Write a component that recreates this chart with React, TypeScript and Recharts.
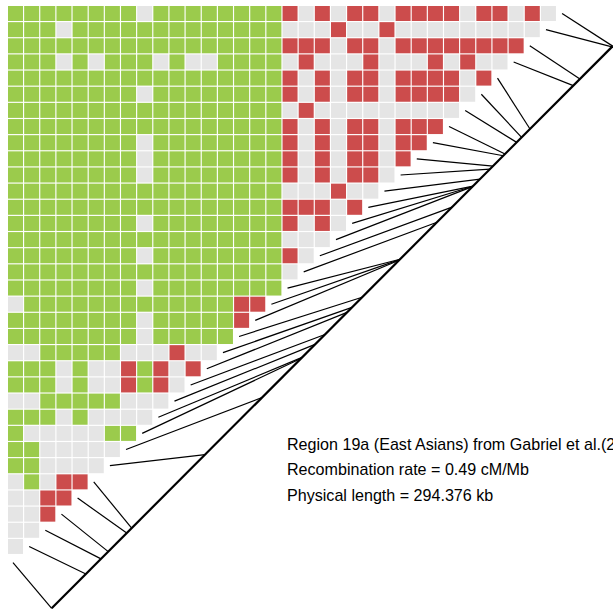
import { ScatterChart, Scatter, XAxis, YAxis, ReferenceLine, Customized } from 'recharts';

// haplotype-sharing matrix, one string per SNP row (G = green, R = red, X = grey)
const rowCodes = [
  'GGGGGGGGXGGGGGGGGRXRXRRXRRRRXRRXRX',
  'GGGXGGGGGGGGGGGGGXXXRXXRXXXXXXXXX',
  'GGGGGGGGGGGGGGGGGRRRXRRXRRRRRRRR',
  'GGGXGXGGGXGXXGGGGXRXXXRXXXRXRXX',
  'GGGGGGGGGGGGGGGGGRXRXRRXRRRRXR',
  'GGGGGGGGXGGGGGGGGRXRXRRXRRRRX',
  'GGGGGGGGGGGGGGGGGXRXXXXXXXXX',
  'GGGGGGGGGGGGGGGGGRXRXRRXRRR',
  'GGGGGGGGXGGGGGGGGRXRXRRXRR',
  'GGGGGGGGXGGGGGGGGRXRXRRXR',
  'GGGGGGGGXGGGGGGGGRXRXRRX',
  'GGGGGGGGGGGGGGGGGXXXRXX',
  'GGGGGGGGGGGGGGGGGRRRXR',
  'GGGGGGGGXGGGGGGGGRXRX',
  'GGGGGGGGGGGGGGGGGXXX',
  'GGGGGGGGXGGGGGGGGRX',
  'GGGGGGGGGGGGGGGGGX',
  'GGGGGGGGXGGGGGGGG',
  'XGGGGGGGGGGGGGRR',
  'GGGGGGGGXGGGGGR',
  'GGGGGGGGXGGGGG',
  'XXGGGGGXXXRXX',
  'GGGXGXXRGRXR',
  'GGGXGXXRGRX',
  'XXGGGGGXXX',
  'GGGXGXXXX',
  'GXXXXXGG',
  'GGXXXXX',
  'GGXXXX',
  'XGXRR',
  'XXRR',
  'XXR',
  'XX',
  'X',
  '',
];

// SNP positions along the physical-length axis (kb from the top end)
const positionsKb = [
  0, 0.4, 17.2, 20.7, 43.4, 47.8, 50.4, 56.5, 57.4, 62.8, 64.4, 69.6,
  73.3, 73.4, 73.6, 84.3, 92.2, 111.6, 111.8, 112.1, 131.5, 136.8, 139.4,
  151.0, 156.2, 163.0, 163.6, 184.0, 213.9, 252.4, 255.0, 264.7, 268.5,
  276.4, 294.376,
];

const physicalLength = 294.376;

const captionLines = [
  'Region 19a (East Asians) from Gabriel et al.(2002)',
  'Recombination rate = 0.49 cM/Mb',
  'Physical length = 294.376 kb',
];

const fills: Record<string, string> = {
  G: '#9BCB4C',
  R: '#CC4C4C',
  X: '#E5E5E5',
};

const nRows = rowCodes[0].length;

const cells = rowCodes.flatMap((row, r) =>
  row.split('').map((code, c) => ({ x: c + 0.5, y: r + 0.5, fill: fills[code] }))
);

// ends of the physical-length axis, in grid units
const axisTop = { x: 37.48, y: 2.52 };
const axisBottom = { x: 2.74, y: 37.33 };

const connectors = positionsKb.map((kb, i) => {
  const f = kb / physicalLength;
  return [
    { x: nRows - i + 0.345, y: i + 0.5 },
    {
      x: axisTop.x + (axisBottom.x - axisTop.x) * f,
      y: axisTop.y + (axisBottom.y - axisTop.y) * f,
    },
  ];
});

const Cell = (props: any) => {
  const { cx, cy, payload } = props;
  return <rect x={cx - 7.5} y={cy - 7.5} width={15} height={15} fill={payload.fill} />;
};

const Caption = () => (
  <g>
    {captionLines.map((t, i) => (
      <text
        key={i}
        x={287}
        y={449.5 + i * 25.8}
        fontSize={16.1}
        fontFamily="'Liberation Sans', Arial, sans-serif"
        fill="#000"
      >
        {t}
      </text>
    ))}
  </g>
);

export default function App() {
  return (
    <div style={{ width: 613, height: 613, overflow: 'hidden' }}>
      <style>{'body{margin:0}'}</style>
      <ScatterChart width={613} height={613} margin={{ top: 0, right: 0, bottom: 0, left: 0 }}>
        <XAxis type="number" dataKey="x" domain={[-0.4598, 37.497]} hide allowDataOverflow />
        <YAxis type="number" dataKey="y" domain={[-0.3359, 37.621]} reversed hide allowDataOverflow />
        <Scatter data={cells} shape={<Cell />} isAnimationActive={false} />
        {connectors.map((seg, i) => (
          <ReferenceLine key={i} segment={seg} stroke="#000" strokeWidth={1.2} ifOverflow="visible" />
        ))}
        <ReferenceLine segment={[axisTop, axisBottom]} stroke="#000" strokeWidth={2.2} ifOverflow="visible" />
        <Customized component={<Caption />} />
      </ScatterChart>
    </div>
  );
}
